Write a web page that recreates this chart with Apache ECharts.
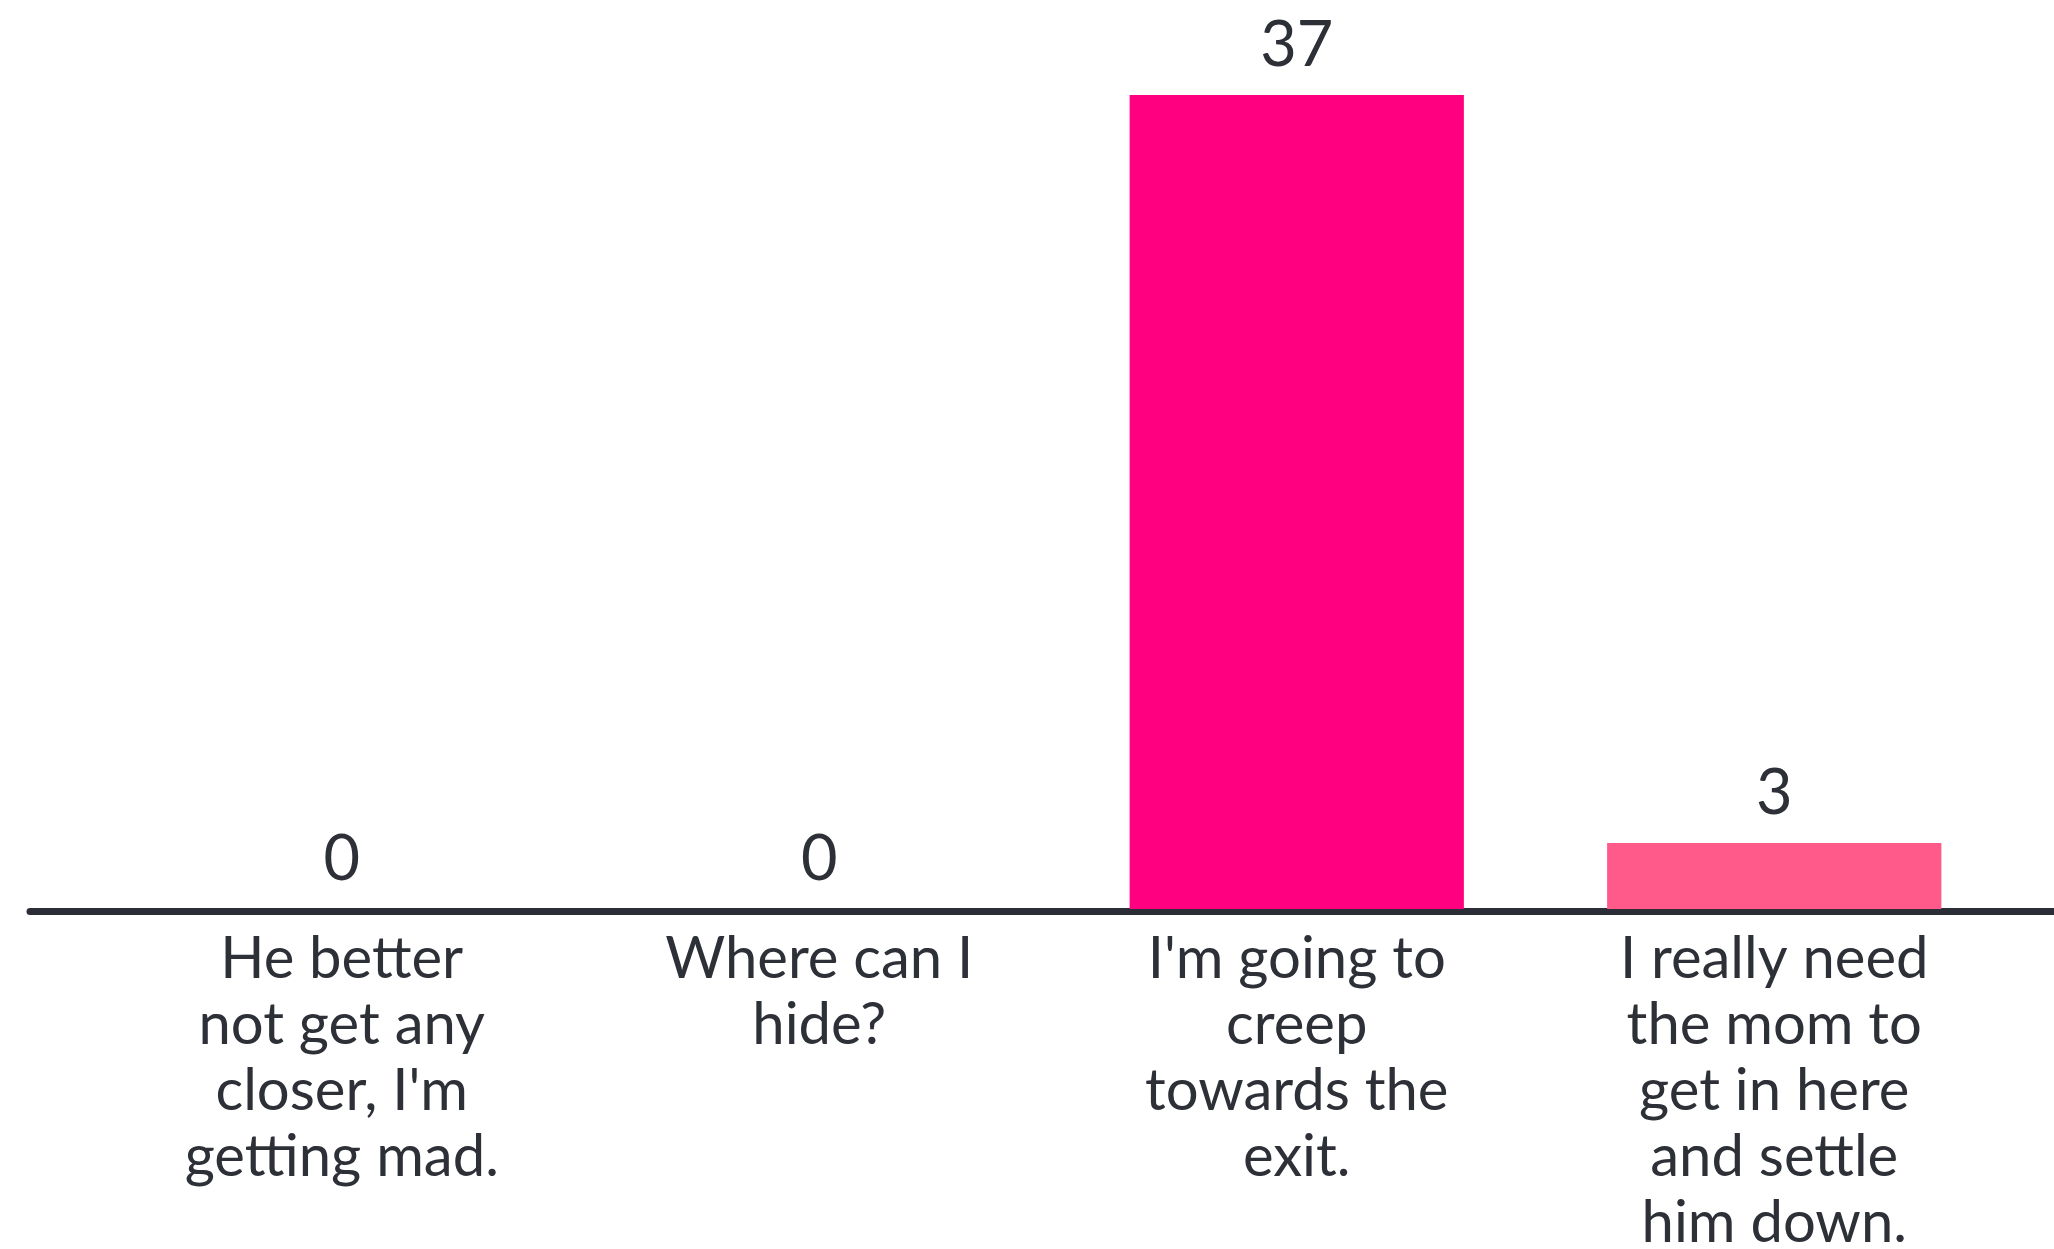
<!DOCTYPE html>
<html>
<head>
<meta charset="utf-8">
<script src="https://cdn.jsdelivr.net/npm/echarts@6/dist/echarts.min.js"></script>
<style>
  html, body { margin: 0; padding: 0; background: #ffffff; }
  #chart { width: 2054px; height: 1249px; }
</style>
</head>
<body>
<div id="chart"></div>
<script>
// Poll answers and vote counts
const categories = [
  "He better\nnot get any\ncloser, I'm\ngetting mad.",
  "Where can I\nhide?",
  "I'm going to\ncreep\ntowards the\nexit.",
  "I really need\nthe mom to\nget in here\nand settle\nhim down."
];
const votes = [0, 0, 37, 3];
const barColors = ["#FF0080", "#FF0080", "#FF0080", "#FF5A8A"];

const textColor = "#2E3038";
const fontFamily = "Lato, 'Noto Sans', sans-serif";

const chart = echarts.init(document.getElementById("chart"), null, { renderer: "canvas" });

chart.setOption({
  backgroundColor: "#ffffff",
  animation: false,
  grid: [
    { left: 103, right: 41, top: 95, bottom: 340, outerBoundsMode: "none" },
    // full-width grid that only carries the baseline rule
    { left: 30, right: 0, top: 95, bottom: 338, outerBoundsMode: "none" }
  ],
  xAxis: [
    {
      type: "category",
      gridIndex: 0,
      data: categories,
      axisLine: { show: false },
      axisTick: { show: false },
      axisLabel: {
        interval: 0,
        margin: 17,
        color: textColor,
        fontFamily: fontFamily,
        fontSize: 58,
        lineHeight: 66,
        align: "center",
        verticalAlign: "top"
      }
    },
    {
      type: "category",
      gridIndex: 1,
      data: [""],
      axisLine: { show: true, lineStyle: { color: "#2B2E36", width: 7 } },
      axisTick: { show: false },
      axisLabel: { show: false }
    }
  ],
  yAxis: [
    { type: "value", gridIndex: 0, min: 0, max: 37, show: false, splitLine: { show: false } },
    { type: "value", gridIndex: 1, min: 0, max: 37, show: false, splitLine: { show: false } }
  ],
  series: [
    {
      type: "bar",
      xAxisIndex: 0,
      yAxisIndex: 0,
      barWidth: "70%",
      data: votes.map((v, i) => ({ value: v, itemStyle: { color: barColors[i] } })),
      label: {
        show: true,
        position: "top",
        distance: 18,
        color: textColor,
        fontFamily: fontFamily,
        fontSize: 63,
        lineHeight: 63
      }
    }
  ]
});
</script>
</body>
</html>
